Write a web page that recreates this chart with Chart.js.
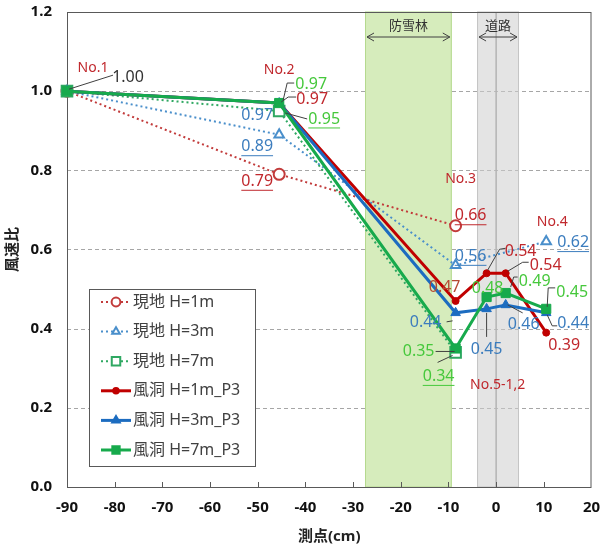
<!DOCTYPE html>
<html>
<head>
<meta charset="utf-8">
<script src="https://cdn.jsdelivr.net/npm/chart.js@4"></script>
<style>
  html, body { margin: 0; padding: 0; background: #fff; }
  #wrap { width: 601px; height: 548px; }
</style>
</head>
<body>
<div id="wrap"><canvas id="windChart" width="601" height="548"></canvas></div>
<script>
// ===== データ =====
const xField  = [-90, -45.5, -8.5, 10.5];          // No.1, No.2, No.3, No.4
const xTunnel = [-90, -45.5, -8.5, -2, 2, 10.5];   // No.1, No.2, No.3, No.5-1, No.5-2, No.4
const field1  = [1.00, 0.79, 0.66];
const field3  = [1.00, 0.89, 0.56, 0.62];
const field7  = [1.00, 0.95, 0.34];
const tunnel1 = [1.00, 0.97, 0.47, 0.54, 0.54, 0.39];
const tunnel3 = [1.00, 0.97, 0.44, 0.45, 0.46, 0.44];
const tunnel7 = [1.00, 0.97, 0.35, 0.48, 0.49, 0.45];
const seriesNames = ["現地 H=1m", "現地 H=3m", "現地 H=7m", "風洞 H=1m_P3", "風洞 H=3m_P3", "風洞 H=7m_P3"];
const forestZone = [-27.5, -9.3];   // 防雪林
const roadZone = [-4, 4.8];         // 道路（中央線 0）

const RED = "#C0282D", BLUE = "#3C7DBE", GREEN = "#46C83C";

const pts = (xs, ys) => ys.map((v, i) => ({ x: xs[i], y: v }));

// ラベル： [dataset, 点, 文字, dx, dy, 色, 下線, 引出線]
const labels = [
  [5, 0, "1.00", 61, -14, "#333", false, [[2, -2], [46, -16]]],
  [5, 0, "No.1", 26, -23, RED],
  [5, 1, "No.2", 0, -33, RED],
  [5, 1, "0.97", 32, -19, GREEN, false, [[4, -3], [8, -20], [15, -20]]],
  [3, 1, "0.97", 33, -4, RED, false, [[2, -1], [9, -6], [17, -6]]],
  [4, 1, "0.97", -22, 12, BLUE],
  [2, 1, "0.95", 45, 8, GREEN, true, [[6, 2], [28, 8]]],
  [1, 1, "0.89", -22, 12, BLUE, true],
  [0, 1, "0.79", -22, 7, RED, true],
  [0, 2, "No.3", 5, -47, RED],
  [0, 2, "0.66", 15, -10, RED, true],
  [1, 2, "0.56", 15, -9, BLUE, true],
  [3, 2, "0.47", -11, -14, "#B54A32"],
  [4, 2, "0.44", -30, 10, BLUE, false, [[-9, 9], [-3, 8]]],
  [5, 2, "0.35", -37, 3, GREEN, false, [[-20, 3], [-1, 3]]],
  [2, 2, "0.34", -17, 24, GREEN, true, [[-18, 10], [-3, 3]]],
  [3, 3, "0.54", 34, -22, RED, false, [[1, -3], [13, -24], [19, -25]]],
  [3, 4, "0.54", 40, -8, RED, false, [[2, -2], [17, -11], [23, -11]]],
  [5, 3, "0.48", 1, -9, GREEN],
  [5, 4, "0.49", 29, -12, GREEN, false, [[5, -6], [8, -16], [12, -16]]],
  [4, 3, "0.45", 0, 41, BLUE, false, [[0, 4], [0, 28]]],
  [4, 4, "0.46", 18, 20, BLUE, false, [[2, 0], [17, 8]]],
  [4, 3, "No.5-1,2", 11, 76, RED],
  [1, 3, "No.4", 6, -20, RED],
  [1, 3, "0.62", 27, 1, BLUE, true],
  [5, 5, "0.45", 26, -16, GREEN, false, [[1, -2], [2, -21], [9, -21]]],
  [4, 5, "0.44", 27, 11, BLUE, false, [[1, 2], [6, 13], [11, 13]]],
  [3, 5, "0.39", 18, 13, RED]
];

const FONT = "'Noto Sans', 'Noto Sans CJK JP', sans-serif";

// ===== 帯・グリッド・ラベル・凡例 =====
const decor = {
  id: "decor",
  beforeDatasetsDraw(chart) {
    const { ctx, chartArea: a, scales: { x, y } } = chart;
    ctx.save();
    // グリッド（破線）
    ctx.strokeStyle = "#a6a6a6";
    ctx.lineWidth = 1;
    ctx.setLineDash([4, 3]);
    for (let v = 0.2; v < 1.19; v += 0.2) {
      const py = Math.round(y.getPixelForValue(v)) + 0.5;
      ctx.beginPath(); ctx.moveTo(a.left, py); ctx.lineTo(a.right, py); ctx.stroke();
    }
    ctx.setLineDash([]);
    // 防雪林
    const f0 = x.getPixelForValue(forestZone[0]), f1 = x.getPixelForValue(forestZone[1]);
    ctx.fillStyle = "#d6ecbc";
    ctx.fillRect(f0, a.top, f1 - f0, a.bottom - a.top);
    ctx.strokeStyle = "#b5d98f";
    ctx.strokeRect(f0 + 0.5, a.top, f1 - f0 - 1, a.bottom - a.top);
    // 道路
    const r0 = x.getPixelForValue(roadZone[0]), r1 = x.getPixelForValue(roadZone[1]);
    const rc = x.getPixelForValue(0);
    ctx.fillStyle = "rgba(205,205,205,0.55)";
    ctx.fillRect(r0, a.top, r1 - r0, a.bottom - a.top);
    ctx.strokeStyle = "#c4c4c4";
    ctx.strokeRect(r0 + 0.5, a.top, r1 - r0 - 1, a.bottom - a.top);
    ctx.strokeStyle = "#b4b4b4";
    ctx.lineWidth = 1.5;
    ctx.beginPath(); ctx.moveTo(rc, a.top); ctx.lineTo(rc, a.bottom); ctx.stroke();
    // 矢印と帯の名前
    const arrow = (p0, p1, py, name) => {
      ctx.strokeStyle = "#404040";
      ctx.lineWidth = 1;
      ctx.beginPath();
      ctx.moveTo(p0 + 2, py); ctx.lineTo(p1 - 2, py);
      ctx.moveTo(p0 + 9, py - 4); ctx.lineTo(p0 + 2, py); ctx.lineTo(p0 + 9, py + 4);
      ctx.moveTo(p1 - 9, py - 4); ctx.lineTo(p1 - 2, py); ctx.lineTo(p1 - 9, py + 4);
      ctx.stroke();
      ctx.fillStyle = "#333";
      ctx.font = "13px " + FONT;
      ctx.textAlign = "center";
      ctx.textBaseline = "middle";
      ctx.fillText(name, (p0 + p1) / 2, py - 11);
    };
    arrow(f0, f1, a.top + 25, "防雪林");
    arrow(r0, r1, a.top + 25, "道路");
    // 枠
    ctx.strokeStyle = "#595959";
    ctx.lineWidth = 1;
    ctx.strokeRect(a.left + 0.5, a.top + 0.5, a.right - a.left - 1, a.bottom - a.top);
    // x目盛り（内向き）
    for (let v = -80; v < 20; v += 10) {
      const px = Math.round(x.getPixelForValue(v)) + 0.5;
      ctx.beginPath(); ctx.moveTo(px, a.bottom); ctx.lineTo(px, a.bottom - 5); ctx.stroke();
    }
    ctx.restore();
  },
  afterDatasetsDraw(chart) {
    const { ctx } = chart;
    ctx.save();
    ctx.textAlign = "center";
    ctx.textBaseline = "middle";
    labels.forEach(([ds, i, text, dx, dy, color, under, leader]) => {
      const el = chart.getDatasetMeta(ds).data[i];
      const px = el.x, py = el.y;
      if (leader) {
        ctx.strokeStyle = "#404040";
        ctx.lineWidth = 1;
        ctx.beginPath();
        leader.forEach(([lx, ly], k) => k ? ctx.lineTo(px + lx, py + ly) : ctx.moveTo(px + lx, py + ly));
        ctx.stroke();
      }
      ctx.font = (text.startsWith("No.") ? "14px " : "16px ") + FONT;
      ctx.fillStyle = color;
      ctx.fillText(text, px + dx, py + dy);
      if (under) {
        const w = ctx.measureText(text).width;
        ctx.strokeStyle = color;
        ctx.lineWidth = 1;
        ctx.beginPath();
        ctx.moveTo(px + dx - w / 2, py + dy + 9);
        ctx.lineTo(px + dx + w / 2, py + dy + 9);
        ctx.stroke();
      }
    });
    ctx.restore();
  },
  afterDraw(chart) {
    // 凡例（グラフ内の枠）
    const { ctx } = chart;
    ctx.save();
    ctx.fillStyle = "#fff";
    ctx.fillRect(89.5, 289.5, 166, 177);
    ctx.strokeStyle = "#595959";
    ctx.lineWidth = 1;
    ctx.strokeRect(89.5, 289.5, 166, 177);
    chart.data.datasets.forEach((d, k) => {
      const ly = 302 + k * 29.6;
      ctx.strokeStyle = d.borderColor;
      ctx.lineWidth = d.borderWidth;
      ctx.setLineDash(d.borderDash || []);
      ctx.beginPath(); ctx.moveTo(101, ly); ctx.lineTo(131, ly); ctx.stroke();
      ctx.setLineDash([]);
      ctx.fillStyle = d.pointBackgroundColor;
      ctx.strokeStyle = d.borderColor;
      ctx.lineWidth = 2;
      Chart.helpers.drawPoint(ctx, { pointStyle: d.pointStyle, radius: d.pointRadius * 0.8, rotation: 0, borderWidth: 2 }, 116, ly);
      ctx.fillStyle = "#404040";
      ctx.font = "16px " + FONT;
      ctx.textAlign = "left";
      ctx.textBaseline = "middle";
      ctx.fillText(seriesNames[k], 133, ly);
    });
    ctx.restore();
  }
};

const fieldSet = (label, data, color, style, r, order) => ({
  label, data, borderColor: color, borderWidth: 2, borderDash: [2, 3],
  pointStyle: style, pointRadius: r, pointBorderWidth: 2,
  pointBackgroundColor: "#fff", pointBorderColor: color,
  showLine: true, clip: false, order
});
const tunnelSet = (label, data, color, style, r, order) => ({
  label, data, borderColor: color, borderWidth: 3,
  pointStyle: style, pointRadius: r, pointBorderWidth: 1,
  pointBackgroundColor: color, pointBorderColor: color,
  showLine: true, clip: false, order
});

new Chart(document.getElementById("windChart"), {
  type: "scatter",
  data: {
    datasets: [
      fieldSet(seriesNames[0], pts(xField, field1), "#C23B3B", "circle", 5.5, 5),
      fieldSet(seriesNames[1], pts(xField, field3), "#4A8FCB", "triangle", 5.5, 4),
      fieldSet(seriesNames[2], pts(xField, field7), "#2FA862", "rect", 7.5, 3),
      tunnelSet(seriesNames[3], pts(xTunnel, tunnel1), "#C00000", "circle", 3.5, 2),
      tunnelSet(seriesNames[4], pts(xTunnel, tunnel3), "#1C6CC0", "triangle", 5.5, 1),
      tunnelSet(seriesNames[5], pts(xTunnel, tunnel7), "#17AA4C", "rect", 6.5, 0)
    ]
  },
  options: {
    responsive: false,
    animation: false,
    devicePixelRatio: 1,
    events: [],
    layout: { padding: 0 },
    plugins: { legend: { display: false }, tooltip: { enabled: false } },
    scales: {
      x: {
        type: "linear", min: -90, max: 20,
        afterFit: s => { s.height = 61; s.paddingLeft = 0; s.paddingRight = 9.5; },
        grid: { display: false, drawTicks: false },
        border: { display: false },
        ticks: { stepSize: 10, padding: 12, color: "#111", font: { family: FONT, size: 15, weight: "bold" } },
        title: { display: true, text: "測点(cm)", color: "#222", padding: { top: 0, bottom: 2 },
                 font: { family: FONT, size: 15, weight: "bold" } }
      },
      y: {
        min: 0, max: 1.2,
        afterFit: s => { s.width = 67; s.paddingTop = 12; s.paddingBottom = 0; },
        grid: { display: false, drawTicks: false },
        border: { display: false },
        ticks: { stepSize: 0.2, padding: 15, color: "#111", callback: v => v.toFixed(1),
                 font: { family: FONT, size: 15, weight: "bold" } },
        title: { display: true, text: "風速比", color: "#222", padding: { top: 4, bottom: 0 },
                 font: { family: FONT, size: 15, weight: "bold" } }
      }
    }
  },
  plugins: [decor]
});
</script>
</body>
</html>
